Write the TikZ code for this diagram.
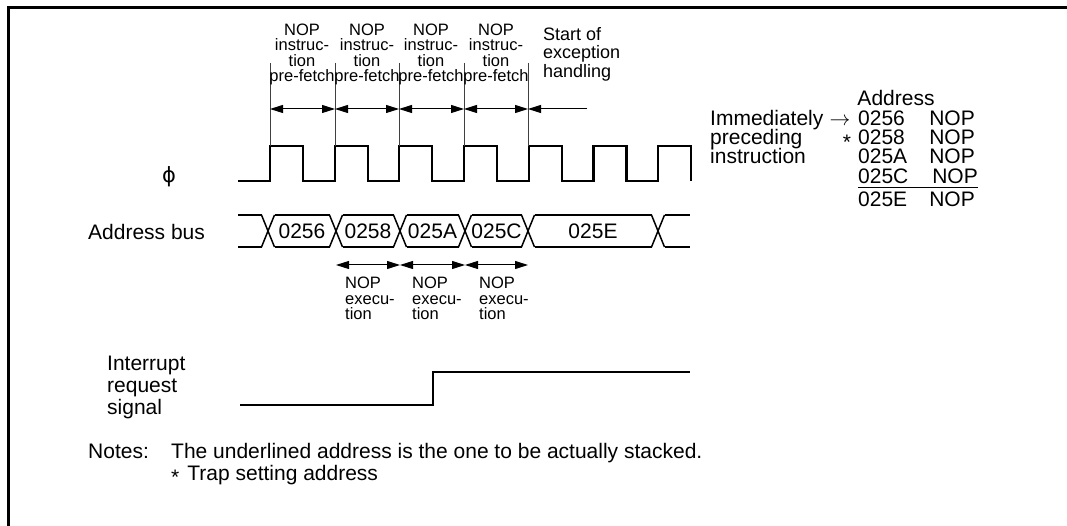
\documentclass[tikz,border=0pt]{standalone}
\usepackage{fontspec}
\setmainfont{Liberation Sans}
\newfontfamily\phifont{DejaVu Sans}
\usetikzlibrary{arrows.meta}
\newcommand{\trapmark}{\raisebox{-4.5pt}{*}}

\begin{document}
\begin{tikzpicture}[
    x=1pt, y=-1pt,
    lbl/.style={font=\fontsize{21}{22}\selectfont, inner sep=0pt},
    small/.style={font=\fontsize{16.5}{15.5}\selectfont, inner sep=0pt, align=center},
    wave/.style={line width=2.3pt},
    bus/.style={line width=1.5pt},
    marker/.style={line width=0.9pt, black!75},
    span/.style={line width=1pt, {Triangle[length=13pt,width=8pt]}-{Triangle[length=13pt,width=8pt]}},
    tip/.style={line width=1pt, -{Triangle[length=13pt,width=8pt]}}
]
    \useasboundingbox (0,0) rectangle (1067,526);
    % Frame
    \draw[line width=3pt] (8,526) -- (8,8) -- (1067,8);

    % Clock
    \node[lbl] (phi) at (169,177) {\phifont ϕ};
    \draw[wave] (238,181) \foreach \i in {0,...,6} {
        -- ({270+64.67*\i},181) -- ({270+64.67*\i},146) -- ({303+64.67*\i},146) -- ({303+64.67*\i},181)};

    % Pre-fetch markers and spans
    \foreach \x [count=\k] in {270,335,399,464,528} {
        \coordinate (t\k) at (\x,63);
        \coordinate (p\k) at (\x,109);
        \draw[marker] (t\k) -- (\x,146);
    }
    \foreach \a/\b in {1/2,2/3,3/4,4/5}
        \draw[span] (p\a) -- (p\b);
    \coordinate (se) at (587,109);
    \draw[tip] (se) -- (p5);

    \foreach \x [count=\k] in {302,367,431,496}
        \node[small, anchor=north] (pf\k) at (\x,23.5) {NOP\\instruc-\\tion\\pre-fetch};
    \node[font=\fontsize{18}{18.5}\selectfont, inner sep=0pt, align=left, anchor=north west] (exc) at (543,27) {Start of\\exception\\handling};

    % Address bus
    \node[lbl, anchor=base west] (abus) at (88,240) {Address bus};
    \foreach \c in {268,336,400,465,528,658}
        \draw[bus] ({\c-6.5},215) -- ({\c+6.5},247) ({\c-6.5},247) -- ({\c+6.5},215);
    \draw[bus] (238,215) -- (261.5,215) (238,247) -- (261.5,247);
    \foreach \a/\b in {268/336,336/400,400/465,465/528,528/658}
        \draw[bus] ({\a+6.5},215) -- ({\b-6.5},215) ({\a+6.5},247) -- ({\b-6.5},247);
    \draw[bus] (664.5,215) -- (690,215) (664.5,247) -- (690,247);
    \foreach \x/\t in {302/0256,368/0258,432.5/025A,496.5/025C,593/025E}
        \node[lbl, anchor=base] (b\t) at (\x,238.5) {\t};

    % Execution spans
    \foreach \x [count=\k] in {336,400,465,528}
        \coordinate (x\k) at (\x,265);
    \foreach \a/\b in {1/2,2/3,3/4}
        \draw[span] (x\a) -- (x\b);
    \foreach \x [count=\k] in {345,412,479}
        \node[small, align=left, anchor=north west] (ex\k) at (\x,277) {NOP\\execu-\\tion};

    % Interrupt request
    \node[lbl, align=left, anchor=north west] (irq) at (107,356) {Interrupt\\request\\signal};
    \draw[wave] (240,405) -- (433,405) -- (433,372) -- (690,372);

    % Address list
    \node[lbl, anchor=base] (addr) at (896,106) {Address};
    \node[lbl, anchor=base west] (imm) at (710,126) {Immediately};
    \node[lbl, anchor=base west] (prec) at (710,145) {preceding};
    \node[lbl, anchor=base west] (instr) at (710,164) {instruction};
    \node[lbl, anchor=base] (arr) at (840,126) {$\rightarrow$};
    \node[lbl, anchor=base] (ast1) at (847,145) {\trapmark};
    \foreach \a/\y in {0256/126,0258/145,025A/164,025E/207} {
        \node[lbl, anchor=base west] (r\a) at (858,\y) {\a};
        \node[lbl, anchor=base east] (n\a) at (975,\y) {NOP};
    }
    \node[lbl, anchor=base west] (r025C) at (858,184) {025C};
    \node[lbl, anchor=base east] (n025C) at (978,184) {NOP};
    \draw[line width=1pt] ([yshift=-4pt]r025C.base west) -- ([yshift=-4pt]n025C.base east);

    % Notes
    \node[lbl, anchor=base west] (notes) at (88,458) {Notes:};
    \node[lbl, anchor=base west] (note1) at (171,458) {The underlined address is the one to be actually stacked.};
    \node[lbl, anchor=base west] (note2) at (171,480) {\trapmark\hspace{8pt}Trap setting address};
\end{tikzpicture}
\end{document}
